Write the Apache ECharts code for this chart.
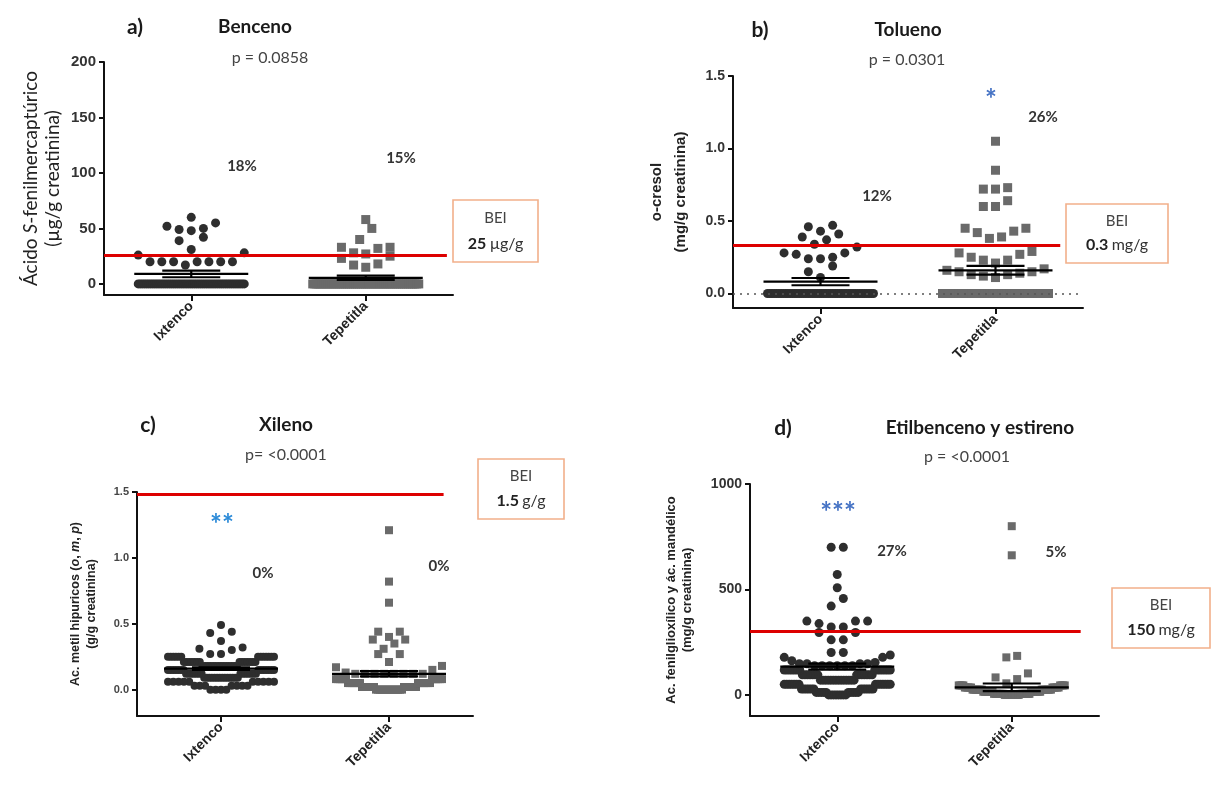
<!DOCTYPE html>
<html><head><meta charset="utf-8">
<script src="https://cdn.jsdelivr.net/npm/echarts@6/dist/echarts.min.js"></script>
<style>html,body{margin:0;padding:0;background:#fff}#c{width:1212px;height:786px}</style>
</head><body><div id="c"></div>
<script>
// ---------------- DATA ([value, count]) ----------------
const categories = ['Ixtenco', 'Tepetitla'];
const categoryPositions = [1, 3];

// a) Benceno — ácido S-fenilmercaptúrico (µg/g creatinina)
const bencenoIxtenco = [[60,1],[55,1],[52,1],[50,1],[49,1],[48,1],[42,1],[39,1],[31,1],[28,1],[26,1],[20,7],[17,1],[0,52]];
const bencenoTepetitla = [[58,1],[50,1],[40,1],[33,2],[32,1],[28,1],[27,1],[25,1],[23,1],[18,1],[17,1],[15,1],[0,53]];
const bencenoMean = [9, 5.5];
const bencenoSem = [3, 2];
const bencenoBEI = 26;
const bencenoTicks = [0, 50, 100, 150, 200];

// b) Tolueno — o-cresol (mg/g creatinina)
const toluenoIxtenco = [[0.47,1],[0.46,1],[0.43,1],[0.41,1],[0.39,1],[0.37,1],[0.34,1],[0.32,1],[0.28,2],[0.27,1],[0.25,1],[0.24,2],[0.19,1],[0.15,1],[0.11,1],[0,48]];
const toluenoTepetitla = [[1.05,1],[0.85,1],[0.73,1],[0.72,2],[0.64,1],[0.60,2],[0.45,2],[0.43,1],[0.42,1],[0.39,1],[0.38,1],[0.29,1],[0.28,1],[0.27,1],[0.25,1],[0.23,2],[0.21,1],[0.17,1],[0.16,1],[0.15,2],[0.14,1],[0.13,2],[0.12,1],[0.11,1],[0,42]];
const toluenoMean = [0.082, 0.16];
const toluenoSem = [0.025, 0.03];
const toluenoBEI = 0.33;
const toluenoTicks = [0, 0.5, 1.0, 1.5];

// c) Xileno — ác. metil hipúricos (g/g creatinina)
const xilenoIxtenco = [[0.49,1],[0.44,1],[0.43,1],[0.37,1],[0.32,1],[0.31,1],[0.30,1],[0.27,2],[0.25,13],[0.21,14],[0.18,14],[0.15,14],[0.12,14],[0.09,14],[0.06,10],[0.03,7],[0,4]];
const xilenoTepetitla = [[1.21,1],[0.82,1],[0.66,1],[0.44,2],[0.40,1],[0.38,2],[0.35,1],[0.31,1],[0.27,2],[0.21,1],[0.18,1],[0.17,1],[0.15,1],[0.13,1],[0.12,8],[0.08,12],[0.05,14],[0.02,14],[0,14]];
const xilenoMean = [0.16, 0.12];
const xilenoSem = [0.01, 0.02];
const xilenoBEI = 1.48;
const xilenoTicks = [0, 0.5, 1.0, 1.5];

// d) Etilbenceno y estireno — ác. fenilglioxílico y ác. mandélico (mg/g creatinina)
const etilIxtenco = [[700,2],[571,1],[508,1],[457,1],[421,1],[350,3],[338,1],[322,2],[296,2],[261,2],[201,2],[189,1],[178,2],[162,1],[154,1],[148,4],[138,6],[118,14],[95,14],[70,14],[50,14],[28,12],[12,10],[0,8]];
const etilTepetitla = [[800,1],[662,1],[185,1],[178,1],[102,1],[83,1],[75,1],[55,1],[45,8],[35,10],[25,14],[15,14],[5,14],[0,10]];
const etilMean = [134, 36];
const etilSem = [14, 18];
const etilBEI = 300;
const etilTicks = [0, 500, 1000];

// ---------------- LAYOUT / STYLE ----------------
const TXT = 'Lato, "Open Sans", sans-serif';
const ARIAL = '"Liberation Sans", Arial, sans-serif';
const panels = [
  { grid:{left:104, top:62, width:349, height:233}, yMin:-10, yMax:200, ticks:bencenoTicks, dec:0,
    groups:[bencenoIxtenco, bencenoTepetitla], mean:bencenoMean, sem:bencenoSem, bei:bencenoBEI, beiEnd:3.93,
    zeroLine:false, sizes:[9,9], tickFont:{fontSize:15, fontWeight:'bold', color:'#333', fontFamily:ARIAL},
    yName:'Ácido {i|S}-fenilmercaptúrico\n(µg/g creatinina)', nameGap:40,
    nameFont:{fontSize:19, fontWeight:'normal', fontFamily:TXT, color:'#222', lineHeight:22} },
  { grid:{left:733, top:76, width:350, height:232}, yMin:-0.1, yMax:1.5, ticks:toluenoTicks, dec:1,
    groups:[toluenoIxtenco, toluenoTepetitla], mean:toluenoMean, sem:toluenoSem, bei:toluenoBEI, beiEnd:3.74,
    zeroLine:true, sizes:[9,9], tickFont:{fontSize:14, fontWeight:'bold', color:'#333', fontFamily:ARIAL},
    yName:'o-cresol\n(mg/g creatinina)', nameGap:40,
    nameFont:{fontSize:15, fontWeight:'bold', fontFamily:ARIAL, color:'#222', lineHeight:24} },
  { grid:{left:137, top:492, width:336, height:224}, yMin:-0.2, yMax:1.5, ticks:xilenoTicks, dec:1,
    groups:[xilenoIxtenco, xilenoTepetitla], mean:xilenoMean, sem:xilenoSem, bei:xilenoBEI, beiEnd:3.65,
    zeroLine:false, sizes:[8,8], tickFont:{fontSize:11, fontWeight:'bold', color:'#444', fontFamily:ARIAL},
    yName:'Ac. metil hipuricos ({i|o}, {i|m}, {i|p})\n(g/g creatinina)', nameGap:37,
    nameFont:{fontSize:12.5, fontWeight:'bold', fontFamily:ARIAL, color:'#222', lineHeight:16} },
  { grid:{left:750, top:484, width:349, height:232}, yMin:-100, yMax:1000, ticks:etilTicks, dec:0,
    groups:[etilIxtenco, etilTepetitla], mean:etilMean, sem:etilSem, bei:etilBEI, beiEnd:3.79,
    zeroLine:false, sizes:[9,8], tickFont:{fontSize:14, fontWeight:'bold', color:'#333', fontFamily:ARIAL},
    yName:'Ac. fenilglioxílico y ác. mandélico\n(mg/g creatinina)', nameGap:55,
    nameFont:{fontSize:13, fontWeight:'bold', fontFamily:ARIAL, color:'#222', lineHeight:16} }
];
const symbolColors = ['#2e2e2e', '#6a6a6a'];
const symbolShapes = ['circle', 'rect'];

function expand(pairs) {
  const out = [];
  pairs.forEach(([v, c]) => { for (let i = 0; i < c; i++) out.push(v); });
  return out;
}
// GraphPad-like scatter layout: rows of near-equal values, lowest value in the centre
function swarm(values, center, pxX, pxY, d, maxHalf) {
  const vals = values.slice().sort((a, b) => a - b);
  const thr = 1.4 * d / pxY;
  const rows = []; let row = null;
  vals.forEach(v => { if (!row || v - row[0] >= thr) { row = [v]; rows.push(row); } else row.push(v); });
  const pts = [];
  rows.forEach(r => {
    const n = r.length;
    const sp = n > 1 ? Math.min(1.35 * d, 2 * maxHalf / (n - 1)) : 0;
    const slots = [];
    for (let i = 0; i < n; i++) slots.push((i - (n - 1) / 2) * sp);
    slots.sort((a, b) => Math.abs(a) - Math.abs(b) || a - b);
    r.forEach((v, i) => pts.push([center + slots[i] / pxX, v]));
  });
  return pts;
}

const grids = [], xAxes = [], yAxes = [], series = [];
panels.forEach((p, k) => {
  grids.push(Object.assign({}, p.grid));
  const pxX = p.grid.width / 4, pxY = p.grid.height / (p.yMax - p.yMin);
  xAxes.push({
    gridIndex:k, type:'value', min:0, max:4,
    axisLine:{show:true, onZero:false, lineStyle:{color:'#111', width:2}},
    axisTick:{show:true, customValues:categoryPositions, length:6, lineStyle:{color:'#111', width:2}},
    axisLabel:{customValues:categoryPositions, rotate:45, margin:9, fontSize:14, fontWeight:'bold',
      fontFamily:ARIAL, color:'#222',
      formatter: v => { const i = categoryPositions.indexOf(v); return i >= 0 ? categories[i] : ''; }},
    splitLine:{show:false}
  });
  const rich = { i: Object.assign({}, p.nameFont, {fontStyle:'italic'}) };
  yAxes.push({
    gridIndex:k, type:'value', min:p.yMin, max:p.yMax,
    axisLine:{show:true, onZero:false, lineStyle:{color:'#111', width:2}},
    axisTick:{show:true, customValues:p.ticks, length:5, lineStyle:{color:'#111', width:2}},
    axisLabel:Object.assign({customValues:p.ticks, margin:8, formatter: v => v.toFixed(p.dec)}, p.tickFont),
    splitLine:{show:false},
    name:p.yName, nameLocation:'middle', nameRotate:90, nameGap:p.nameGap,
    nameTextStyle:Object.assign({rich:rich}, p.nameFont)
  });
  if (p.zeroLine) {
    series.push({ type:'line', xAxisIndex:k, yAxisIndex:k, data:[], z:1, silent:true,
      markLine:{silent:true, symbol:'none', label:{show:false},
        lineStyle:{type:[2,5], color:'#555', width:1.6}, data:[{yAxis:0}]} });
  }
  p.groups.forEach((g, gi) => {
    const d = p.sizes[gi];
    series.push({
      type:'scatter', xAxisIndex:k, yAxisIndex:k, z:2, silent:true,
      symbol:symbolShapes[gi], symbolSize:d,
      itemStyle:{color:symbolColors[gi], opacity:1},
      data: swarm(expand(g), categoryPositions[gi], pxX, pxY, d, 53)
    });
  });
  // BEI line
  series.push({ type:'line', xAxisIndex:k, yAxisIndex:k, data:[], z:3, silent:true,
    markLine:{silent:true, symbol:'none', label:{show:false},
      lineStyle:{type:'solid', color:'#dd0000', width:3},
      data:[[{coord:[0, p.bei]}, {coord:[p.beiEnd, p.bei]}]]} });
  // mean ± SEM
  series.push({
    type:'custom', xAxisIndex:k, yAxisIndex:k, z:4, silent:true,
    encode:{x:0, y:1},
    data: categoryPositions.map((c, i) => [c, p.mean[i], p.sem[i]]),
    renderItem: (params, api) => {
      const x = api.value(0), m = api.value(1), s = api.value(2);
      const c = api.coord([x, m]), hi = api.coord([x, m + s]), lo = api.coord([x, m - s]);
      const W = 57, w = 29, st = {stroke:'#000', lineWidth:2.2};
      return { type:'group', children:[
        {type:'line', shape:{x1:c[0]-W, y1:c[1], x2:c[0]+W, y2:c[1]}, style:st},
        {type:'line', shape:{x1:hi[0]-w, y1:hi[1], x2:hi[0]+w, y2:hi[1]}, style:st},
        {type:'line', shape:{x1:lo[0]-w, y1:lo[1], x2:lo[0]+w, y2:lo[1]}, style:st},
        {type:'line', shape:{x1:c[0], y1:hi[1], x2:c[0], y2:lo[1]}, style:st}
      ]};
    }
  });
});

// ---------------- TEXT ANNOTATIONS ----------------
function txt(x, y, text, size, weight, color, family) {
  return { type:'text', x:x, y:y, silent:true, z:10,
    style:{ text:text, fontSize:size, fontWeight:weight||'normal', fill:color||'#222',
      fontFamily:family||TXT, align:'center', verticalAlign:'middle' } };
}
function beiBox(x, y, w, h, num, unit) {
  return [
    { type:'rect', shape:{x:x, y:y, width:w, height:h}, silent:true, z:9,
      style:{fill:'#fff', stroke:'#f2b08a', lineWidth:1.6} },
    txt(x + w/2, y + h*0.29, 'BEI', 15, 'normal', '#444'),
    { type:'text', x:x + w/2, y:y + h*0.70, silent:true, z:10,
      style:{ text:'{b|' + num + '} {n|' + unit + '}', align:'center', verticalAlign:'middle',
        rich:{ b:{fontSize:16, fontWeight:'bold', fontFamily:TXT, fill:'#222', color:'#222'},
               n:{fontSize:16, fontWeight:'normal', fontFamily:TXT, fill:'#333', color:'#333'} } } }
  ];
}
const graphic = [].concat(
  [ txt(135, 27, 'a)', 21, 'bold', '#1a1a1a'), txt(255, 27, 'Benceno', 19, 'bold', '#1a1a1a'),
    txt(270, 58, 'p = 0.0858', 16, 'normal', '#444'),
    txt(242, 166, '18%', 15, 'bold', '#333'), txt(401, 158, '15%', 15, 'bold', '#333') ],
  beiBox(453, 200, 85, 62, '25', 'µg/g'),
  [ txt(760, 30, 'b)', 21, 'bold', '#1a1a1a'), txt(908, 30, 'Tolueno', 19, 'bold', '#1a1a1a'),
    txt(907, 60, 'p = 0.0301', 16, 'normal', '#444'),
    txt(991, 100, '*', 28, 'bold', '#4472c4'),
    txt(1043, 117, '26%', 15, 'bold', '#333'), txt(877, 196, '12%', 15, 'bold', '#333') ],
  beiBox(1066, 204, 102, 59, '0.3', 'mg/g'),
  [ txt(148, 425, 'c)', 21, 'bold', '#1a1a1a'), txt(286, 425, 'Xileno', 19, 'bold', '#1a1a1a'),
    txt(286, 455, 'p= <0.0001', 16, 'normal', '#444'),
    txt(222, 525, '**', 28, 'bold', '#2b8ad8'),
    txt(263, 573, '0%', 15, 'bold', '#333'), txt(439, 566, '0%', 15, 'bold', '#333') ],
  beiBox(478, 459, 86, 60, '1.5', 'g/g'),
  [ txt(783, 428, 'd)', 21, 'bold', '#1a1a1a'), txt(980, 428, 'Etilbenceno y estireno', 19, 'bold', '#1a1a1a'),
    txt(967, 457, 'p = <0.0001', 16, 'normal', '#444'),
    txt(838, 513, '***', 28, 'bold', '#4472c4'),
    txt(892, 551, '27%', 15, 'bold', '#333'), txt(1056, 552, '5%', 15, 'bold', '#333') ],
  beiBox(1112, 588, 98, 60, '150', 'mg/g')
);

const chart = echarts.init(document.getElementById('c'), null, {renderer:'canvas'});
chart.setOption({
  animation:false, backgroundColor:'#fff',
  grid:grids, xAxis:xAxes, yAxis:yAxes, series:series, graphic:graphic
});
</script></body></html>
